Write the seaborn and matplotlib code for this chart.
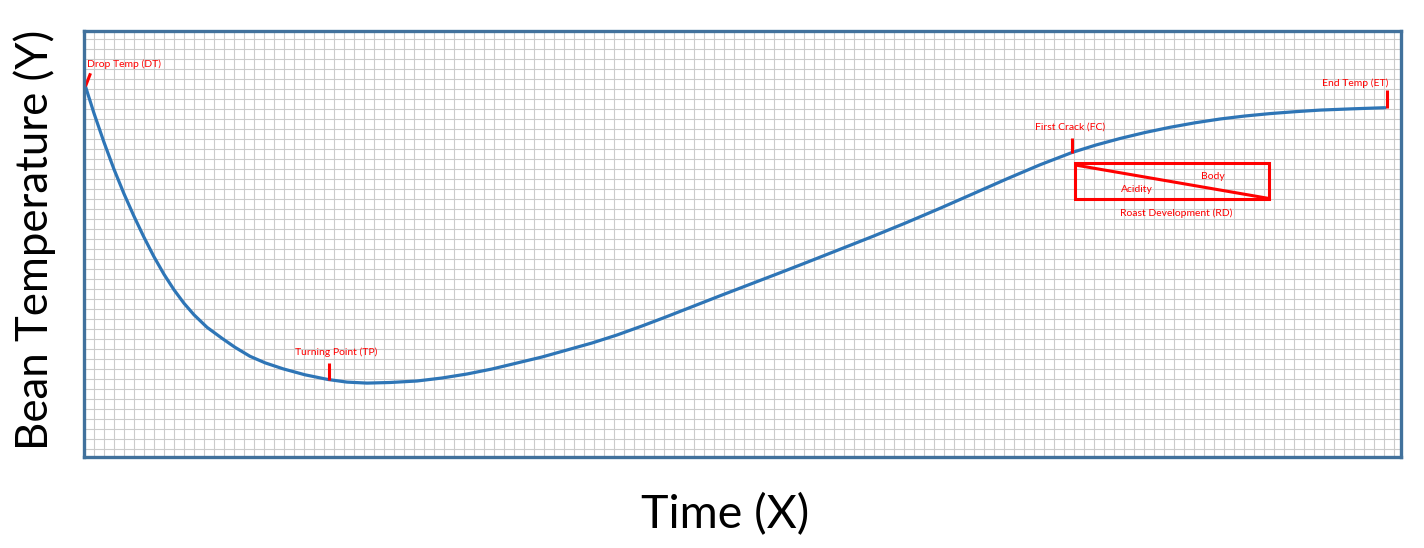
import matplotlib
matplotlib.use("Agg")
import matplotlib.pyplot as plt
import numpy as np
import seaborn as sns

# Roast curve (time and temperature in grid cells)
time_pts = [0.15, 1.0, 2.0, 3.0, 4.0, 5.0, 6.0, 7.0, 8.0, 9.0, 10.0, 11.0,
            12.3, 13.8, 15.1, 16.6, 18.1, 19.9, 22.1, 24.4, 26.3, 28.3,
            30.6, 33.3, 35.8, 38.3, 40.8, 43.3, 45.8, 48.3, 50.8, 53.3,
            55.8, 58.1, 61.3, 63.6, 66.6, 69.6, 72.3, 75.6, 78.9, 82.2,
            85.6, 88.9, 92.3, 95.6, 98.8, 101.2, 103.6, 106.1, 108.6, 111.1,
            113.6, 116.1, 118.6, 121.1, 123.6, 126.9, 130.1]
temp_pts = [37.28, 34.6, 31.7, 29.0, 26.55, 24.3, 22.2, 20.25, 18.5, 16.95, 15.6, 14.45,
            13.2, 12.1, 11.2, 10.3, 9.65, 9.05, 8.45, 7.98, 7.72, 7.62,
            7.68, 7.83, 8.13, 8.53, 9.03, 9.63, 10.23, 10.93, 11.63, 12.43,
            13.33, 14.2, 15.45, 16.35, 17.5, 18.65, 19.7, 21.0, 22.3, 23.65,
            25.1, 26.55, 28.05, 29.45, 30.68, 31.43, 32.08, 32.68, 33.2, 33.65,
            34.03, 34.33, 34.57, 34.76, 34.92, 35.05, 35.16]

# Roast events: where the tick starts on the curve and where it ends
event_names = ["Drop Temp (DT)", "Turning Point (TP)", "First Crack (FC)", "End Temp (ET)"]
event_time = [0.15, 24.5, 98.75, 130.3]
event_temp = [37.3, 7.95, 30.6, 35.15]
event_top = [38.6, 9.63, 32.16, 36.93]

# Roast development box (acidity / body split)
rd_time = [99.1, 118.5]
rd_temp = [26.0, 29.6]

RED = "#FF0000"
BLUE = "#2E75B6"
FRAME = "#41719C"

sns.set_style("white")
plt.rcParams['font.family'] = ['Lato', 'DejaVu Sans']

fig = plt.figure(figsize=(14.24, 5.48), dpi=100)
ax = fig.add_axes([84 / 1424, 1 - 456.5 / 548, (1401 - 84) / 1424, 426 / 548])

ax.set_xlim(0, 131.7)
ax.set_ylim(0.28, 42.88)
ax.set_xticks(np.arange(1, 132, 1))
ax.set_yticks(np.arange(1, 43, 1))
ax.tick_params(length=0, labelbottom=False, labelleft=False)
ax.grid(True, color="#CBCBCB", lw=0.8)
ax.set_axisbelow(True)
for sp in ax.spines.values():
    sp.set_color(FRAME)
    sp.set_linewidth(2.4)

sns.lineplot(x=time_pts, y=temp_pts, ax=ax, color=BLUE, lw=2.3, sort=False,
             estimator=None, solid_joinstyle="round", solid_capstyle="round")

# event ticks
ax.plot([event_time[0], event_time[0] + 0.5], [event_temp[0], event_top[0]],
        color=RED, lw=2.2, solid_capstyle="butt")
for t, v, top in zip(event_time[1:], event_temp[1:], event_top[1:]):
    ax.plot([t, t], [v, top], color=RED, lw=2.2, solid_capstyle="butt")

fs = 7.5
ax.text(0.27, 39.5, event_names[0], color=RED, fontsize=fs, ha="left", va="center")
ax.text(25.2, 10.7, event_names[1], color=RED, fontsize=fs, ha="center", va="center")
ax.text(98.6, 33.26, event_names[2], color=RED, fontsize=fs, ha="center", va="center")
ax.text(127.1, 37.6, event_names[3], color=RED, fontsize=fs, ha="center", va="center")

# roast development box
ax.plot([rd_time[0], rd_time[1], rd_time[1], rd_time[0], rd_time[0]],
        [rd_temp[0], rd_temp[0], rd_temp[1], rd_temp[1], rd_temp[0]],
        color=RED, lw=2.2, solid_joinstyle="miter")
ax.plot([rd_time[0] + 0.2, rd_time[1] - 0.1], [rd_temp[1] - 0.2, rd_temp[0] + 0.1],
        color=RED, lw=2.2)
ax.text(112.9, 28.33, "Body", color=RED, fontsize=fs, ha="center", va="center")
ax.text(105.3, 27.03, "Acidity", color=RED, fontsize=fs, ha="center", va="center")
ax.text(109.2, 24.56, "Roast Development (RD)", color=RED, fontsize=fs,
        ha="center", va="center")

fig.text(35 / 1424, 1 - 240 / 548, "Bean Temperature (Y)", rotation=90,
         fontsize=31.5, ha="center", va="center", color="black")
fig.text(725 / 1424, 1 - 515 / 548, "Time (X)", fontsize=33.5, ha="center",
         va="center", color="black")

fig.savefig("out.png", dpi=100, facecolor="white")
